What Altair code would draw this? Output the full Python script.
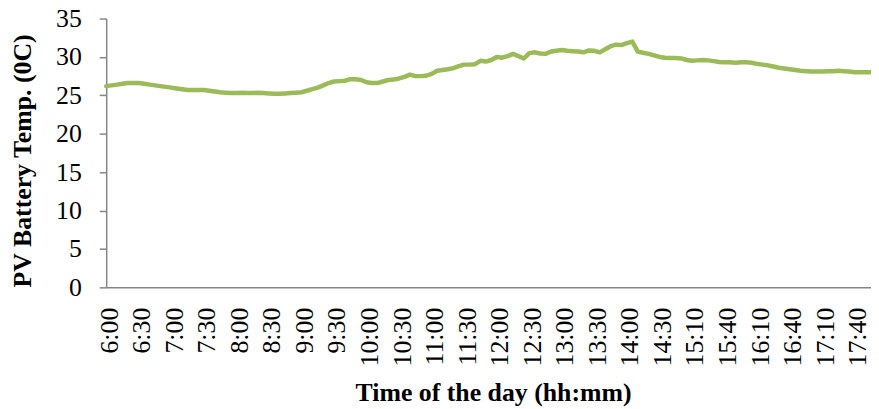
import altair as alt
import pandas as pd

# PV battery temperature (deg C), one reading per category
temps = [
    26.2, 26.3, 26.4, 26.5, 26.6, 26.6, 26.6, 26.5, 26.4, 26.3,
    26.2, 26.1, 26.0, 25.9, 25.8, 25.7, 25.7, 25.7, 25.7, 25.6,
    25.5, 25.4, 25.35, 25.3, 25.3, 25.35, 25.3, 25.3, 25.35, 25.3,
    25.25, 25.2, 25.2, 25.25, 25.3, 25.35, 25.4, 25.6, 25.8, 26.0,
    26.3, 26.6, 26.8, 26.85, 26.9, 27.1, 27.1, 27.0, 26.7, 26.6,
    26.6, 26.8, 27.0, 27.05, 27.2, 27.4, 27.7, 27.5, 27.5, 27.55,
    27.8, 28.2, 28.3, 28.4, 28.55, 28.8, 29.0, 29.0, 29.05, 29.5,
    29.4, 29.6, 30.0, 29.9, 30.1, 30.4, 30.1, 29.8, 30.5, 30.6,
    30.45, 30.4, 30.7, 30.8, 30.9, 30.8, 30.75, 30.7, 30.6, 30.85,
    30.8, 30.6, 31.0, 31.4, 31.6, 31.55, 31.8, 32.0, 30.7, 30.55,
    30.4, 30.2, 30.0, 29.9, 29.85, 29.85, 29.8, 29.6, 29.5, 29.55,
    29.6, 29.55, 29.45, 29.35, 29.3, 29.3, 29.25, 29.3, 29.3, 29.25,
    29.1, 29.0, 28.9, 28.75, 28.6, 28.5, 28.4, 28.3, 28.2, 28.15,
    28.1, 28.1, 28.1, 28.15, 28.15, 28.2, 28.15, 28.1, 28.0, 28.0,
    28.0, 28.0,
]

# reading times in minutes after midnight
morning_minutes = list(range(360, 871, 5))          # 6:00 .. 14:30
gap_minutes = [880, 885, 890, 895, 905, 910]         # 14:40 .. 15:10
evening_minutes = list(range(915, 1076, 5))          # 15:15 .. 17:55
all_minutes = morning_minutes + gap_minutes + evening_minutes

times = [f"{m // 60}:{m % 60:02d}" for m in all_minutes]

tick_labels = [
    "6:00", "6:30", "7:00", "7:30", "8:00", "8:30", "9:00", "9:30",
    "10:00", "10:30", "11:00", "11:30", "12:00", "12:30", "13:00", "13:30",
    "14:00", "14:30", "15:10", "15:40", "16:10", "16:40", "17:10", "17:40",
]
y_ticks = [0, 5, 10, 15, 20, 25, 30, 35]

df = pd.DataFrame({"time": times, "temp": temps})

FONT = "Liberation Serif"
GRAY = "#868686"

chart = (
    alt.Chart(df)
    .mark_line(color="#9BBB59", strokeWidth=4.5, strokeJoin="round", strokeCap="round")
    .encode(
        x=alt.X(
            "time:O",
            sort=None,
            scale=alt.Scale(padding=0),
            axis=alt.Axis(
                values=tick_labels,
                labelAngle=-90,
                ticks=False,
                tickSize=0,
                labelPadding=20,
                labelOffset=3,
                labelFont=FONT,
                labelFontSize=26,
                labelColor="black",
                labelOverlap=False,
                domainColor=GRAY,
                domainWidth=1.5,
                grid=False,
                title="Time of the day (hh:mm)",
                titleFont=FONT,
                titleFontSize=26,
                titleFontWeight="bold",
                titleColor="black",
                titleX=390,
                titleY=114,
                titleAlign="center",
                titleBaseline="alphabetic",
            ),
        ),
        y=alt.Y(
            "temp:Q",
            scale=alt.Scale(domain=[0, 35], nice=False, zero=True),
            axis=alt.Axis(
                values=y_ticks,
                labelFont=FONT,
                labelFontSize=26,
                labelColor="black",
                labelPadding=18,
                tickSize=7,
                tickColor=GRAY,
                tickWidth=1.5,
                domainColor=GRAY,
                domainWidth=1.5,
                grid=False,
                title="PV Battery Temp. (0C)",
                titleFont=FONT,
                titleFontSize=26,
                titleFontWeight="bold",
                titleColor="black",
                titleAngle=-90,
                titleX=-76,
                titleY=143,
                titleAlign="center",
                titleBaseline="alphabetic",
            ),
        ),
    )
    .properties(
        width=771,
        height=271,
        autosize=alt.AutoSizeParams(type="none"),
        padding={"left": 99, "top": 9, "right": 0, "bottom": 120},
        background="white",
    )
    .configure_view(stroke=None)
)

chart.save("out.html", embed_options={"renderer": "svg", "actions": False})
